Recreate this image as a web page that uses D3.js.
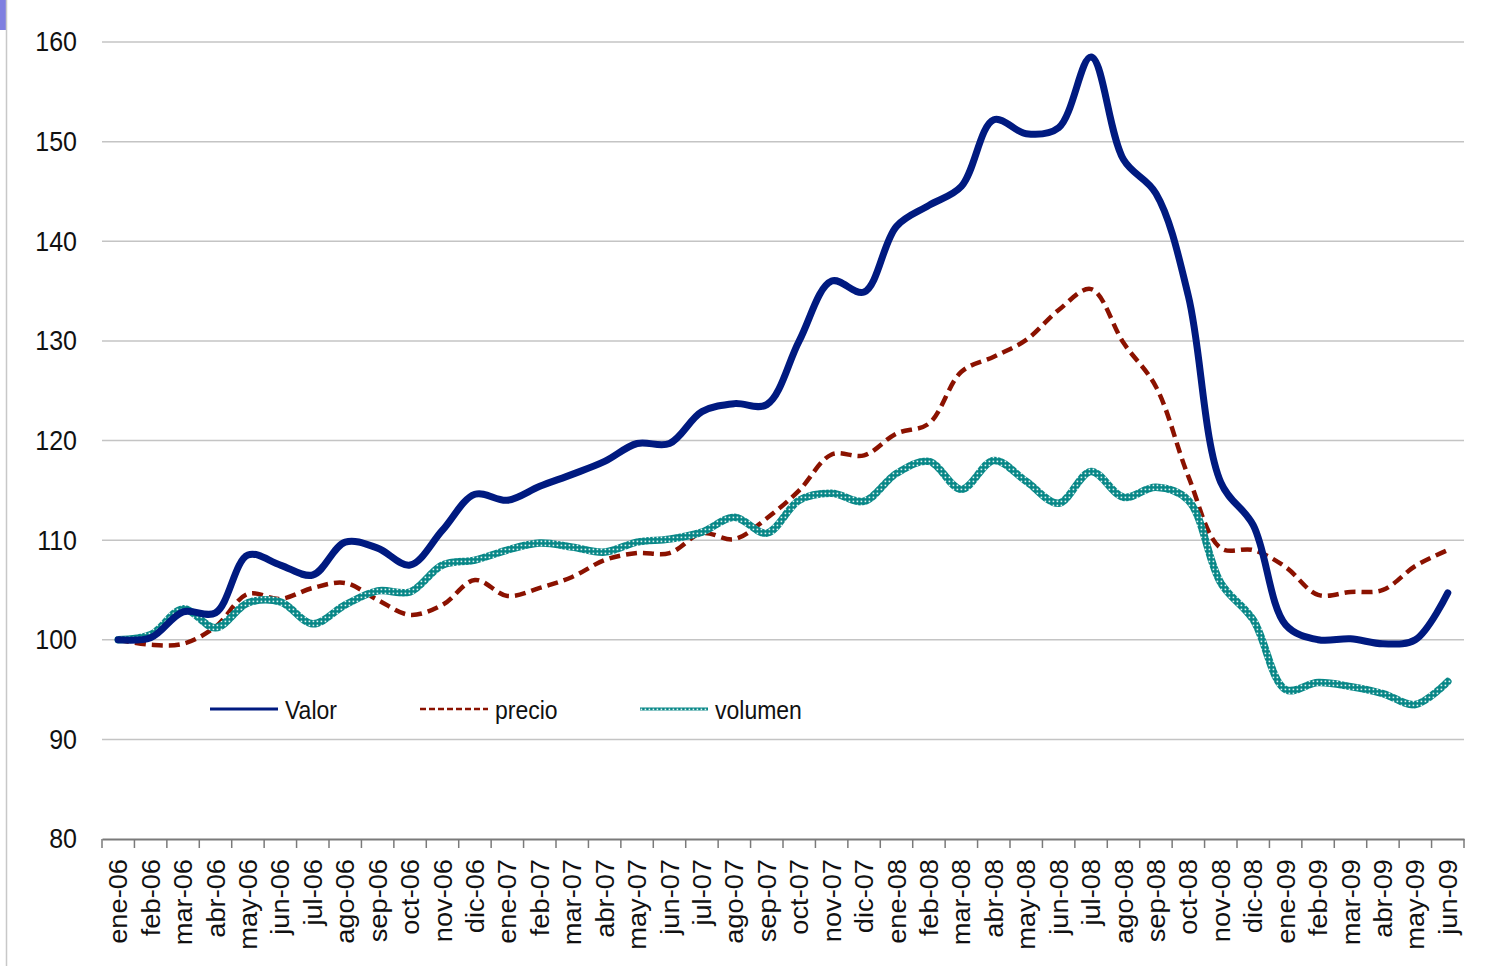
<!DOCTYPE html>
<html>
<head>
<meta charset="utf-8">
<script src="https://cdn.jsdelivr.net/npm/d3@7/dist/d3.min.js"></script>
<style>
  html, body { margin: 0; padding: 0; background: #fff; }
  svg { display: block; font-family: "Liberation Sans", Arial, sans-serif; }
</style>
</head>
<body>
<svg id="chart" width="1503" height="966"></svg>
<script>
const months = [
  'ene-06','feb-06','mar-06','abr-06','may-06','jun-06','jul-06','ago-06','sep-06','oct-06','nov-06','dic-06',
  'ene-07','feb-07','mar-07','abr-07','may-07','jun-07','jul-07','ago-07','sep-07','oct-07','nov-07','dic-07',
  'ene-08','feb-08','mar-08','abr-08','may-08','jun-08','jul-08','ago-08','sep-08','oct-08','nov-08','dic-08',
  'ene-09','feb-09','mar-09','abr-09','may-09','jun-09'
];

const valor = [
  100, 100.2, 102.8, 102.7, 108.5, 107.5, 106.5, 109.8, 109.2, 107.5, 111, 114.6,
  114, 115.4, 116.6, 117.9, 119.7, 119.7, 122.9, 123.7, 123.6, 130, 136, 134.9,
  141.5, 143.6, 145.5, 152.2, 150.8, 151.4, 158.5, 148.2, 144.8, 134.5, 115.8, 111.5,
  101.5, 100, 100.1, 99.6, 100, 104.7
];

const precio = [
  100, 99.5, 99.6, 101.3, 104.6, 104.1, 105.2, 105.7, 104, 102.5, 103.5, 106,
  104.4, 105.2, 106.3, 108, 108.7, 108.7, 110.7, 110.1, 112.2, 115, 118.6, 118.5,
  120.7, 121.7, 126.9, 128.4, 130.1, 133.1, 135.2, 129.8, 125.4, 116.4, 109.2, 109,
  107.3, 104.5, 104.8, 105, 107.4, 109
];

const volumen = [
  100, 100.5, 103.1, 101.2, 103.7, 103.8, 101.6, 103.5, 104.9, 104.8, 107.5, 108,
  109, 109.7, 109.3, 108.8, 109.8, 110.1, 110.8, 112.3, 110.7, 114, 114.7, 113.9,
  116.7, 117.9, 115.1, 118, 115.9, 113.7, 116.9, 114.3, 115.3, 114, 105.7, 102,
  95, 95.7, 95.3, 94.6, 93.5, 95.8
];

const yTicks = [80, 90, 100, 110, 120, 130, 140, 150, 160];

const svg = d3.select('#chart');
const plotLeft = 102, plotRight = 1464, plotTop = 42, plotBottom = 839;

// left edge artefacts of the slide
svg.append('rect').attr('x', 0).attr('y', 0).attr('width', 6).attr('height', 30).attr('fill', '#7f7fe0');
svg.append('line').attr('x1', 6.5).attr('x2', 6.5).attr('y1', 0).attr('y2', 966)
  .attr('stroke', '#c8c8c8').attr('stroke-width', 1.5);

const x = d3.scaleBand().domain(months).range([plotLeft, plotRight]).padding(0);
const y = d3.scaleLinear().domain([80, 160]).range([plotBottom, plotTop]);
const cx = (i) => x(months[i]) + x.bandwidth() / 2;

// textured stroke for volumen
const defs = svg.append('defs');
const pat = defs.append('pattern')
  .attr('id', 'dots')
  .attr('patternUnits', 'userSpaceOnUse')
  .attr('width', 4).attr('height', 4);
pat.append('rect').attr('width', 4).attr('height', 4).attr('fill', '#078787');
pat.append('rect').attr('x', 0.6).attr('y', 0.6).attr('width', 1.6).attr('height', 1.6).attr('fill', '#e6f4f4');

// gridlines
svg.append('g')
  .selectAll('line')
  .data(yTicks.filter((t) => t !== 80))
  .join('line')
  .attr('x1', plotLeft).attr('x2', plotRight)
  .attr('y1', (d) => y(d)).attr('y2', (d) => y(d))
  .attr('stroke', '#c4c4c4').attr('stroke-width', 1.5);

// y labels (slightly tall glyphs, like the original)
svg.append('g')
  .selectAll('text')
  .data(yTicks)
  .join('text')
  .attr('transform', (d) => `translate(77,${y(d)}) scale(1,1.08)`)
  .attr('dy', '0.35em')
  .attr('text-anchor', 'end')
  .attr('font-size', 25)
  .attr('fill', '#111')
  .text((d) => d);

// x axis
const xAxis = svg.append('g')
  .attr('transform', `translate(0,${plotBottom})`)
  .call(d3.axisBottom(x).tickSize(0).tickFormat(''));
xAxis.select('.domain').attr('stroke', '#7a7a7a').attr('stroke-width', 2);

svg.append('g')
  .selectAll('line')
  .data(months.concat(['end']))
  .join('line')
  .attr('x1', (d, i) => plotLeft + i * x.bandwidth())
  .attr('x2', (d, i) => plotLeft + i * x.bandwidth())
  .attr('y1', plotBottom).attr('y2', plotBottom + 9)
  .attr('stroke', '#7a7a7a').attr('stroke-width', 1.5);

svg.append('g')
  .selectAll('text')
  .data(months)
  .join('text')
  .attr('transform', (d, i) => `translate(${cx(i)},859) rotate(-90) scale(1.09,1)`)
  .attr('dy', '0.36em')
  .attr('text-anchor', 'end')
  .attr('font-size', 25)
  .attr('fill', '#111')
  .text((d) => d);

// lines
const line = d3.line()
  .x((d, i) => cx(i))
  .y((d) => y(d))
  .curve(d3.curveCatmullRom.alpha(0.5));

svg.append('path')
  .datum(precio)
  .attr('d', line)
  .attr('fill', 'none')
  .attr('stroke', '#8b1200')
  .attr('stroke-width', 4.5)
  .attr('stroke-dasharray', '11 6');

svg.append('path')
  .datum(volumen)
  .attr('d', line)
  .attr('fill', 'none')
  .attr('stroke', 'url(#dots)')
  .attr('stroke-width', 7.5)
  .attr('stroke-linecap', 'round');

svg.append('path')
  .datum(valor)
  .attr('d', line)
  .attr('fill', 'none')
  .attr('stroke', '#001a80')
  .attr('stroke-width', 7)
  .attr('stroke-linecap', 'round');

// legend
const legendItems = [
  { name: 'Valor', x: 210 },
  { name: 'precio', x: 420 },
  { name: 'volumen', x: 640 }
];
const legend = svg.append('g');
legendItems.forEach((item) => {
  let ln = legend.append('line')
    .attr('x1', item.x).attr('x2', item.x + 68)
    .attr('y1', 709).attr('y2', 709);
  if (item.name === 'Valor') {
    ln.attr('stroke', '#001a80').attr('stroke-width', 3);
  } else if (item.name === 'precio') {
    ln.attr('stroke', '#8b1200').attr('stroke-width', 2.5).attr('stroke-dasharray', '6 3');
  } else {
    ln.attr('stroke', 'url(#dots)').attr('stroke-width', 3);
  }
  legend.append('text')
    .attr('transform', `translate(${item.x + 75},710) scale(1,1.1)`)
    .attr('dy', '0.35em')
    .attr('font-size', 23)
    .attr('fill', '#111')
    .text(item.name);
});
</script>
</body>
</html>
